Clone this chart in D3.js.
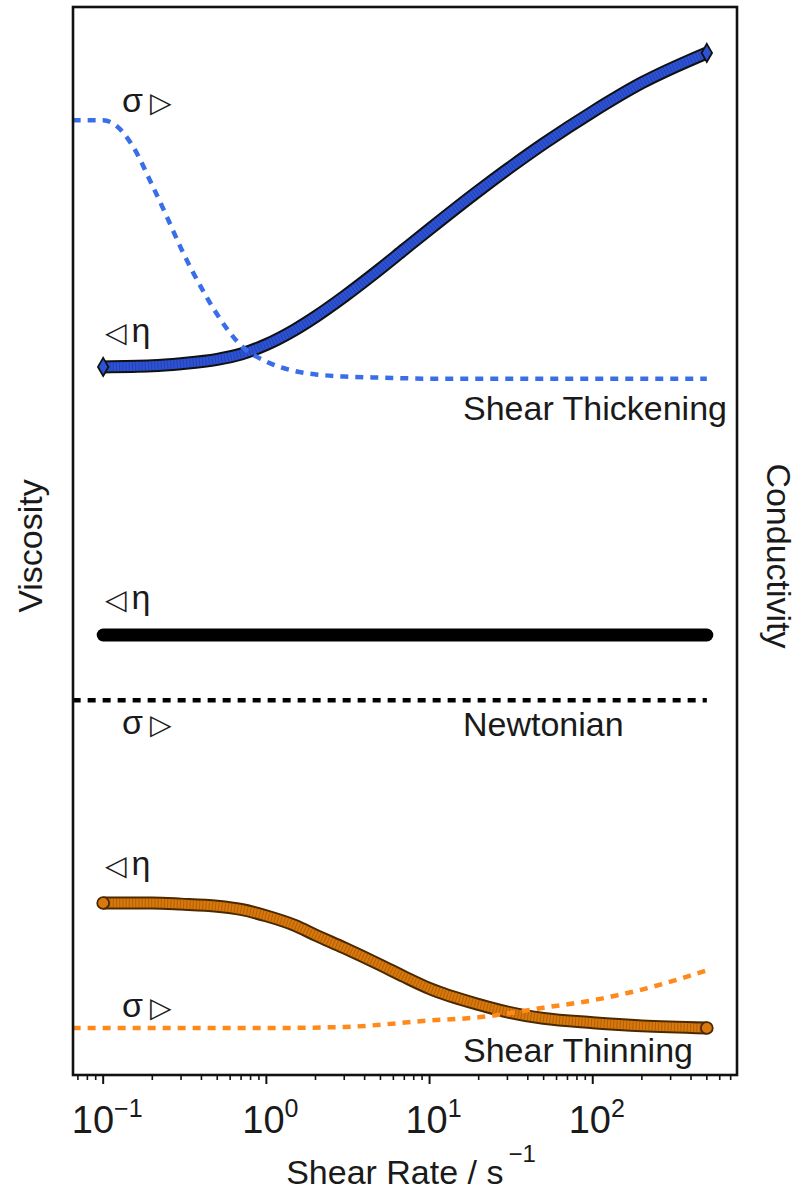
<!DOCTYPE html>
<html>
<head>
<meta charset="utf-8">
<script src="https://cdn.jsdelivr.net/npm/d3@7"></script>
<style>
  body { margin: 0; background: #fff; }
  svg { display: block; }
  text { font-family: "Liberation Sans", Arial, sans-serif; fill: #1a1a1a; }
  .sym { font-family: "DejaVu Sans", sans-serif; }
</style>
</head>
<body>
<svg id="chart" width="800" height="1191"></svg>
<script>
// ---- data -------------------------------------------------------------
// shear rate (1/s) at which viscosity was sampled
const rate = [0.1, 0.2, 0.3, 0.5, 0.7, 1, 1.5, 2, 3, 5, 7, 10, 20, 30, 50, 100, 200, 500];
// viscosity levels (arbitrary units, stacked per fluid type)
const thickeningViscosity = [66.3, 66.4, 66.6, 67.0, 67.5, 68.4, 69.8, 71.0, 72.9, 75.5, 77.3, 79.2, 82.8, 84.8, 87.2, 90.2, 92.9, 95.7];
const thinningViscosity   = [16.1, 16.1, 16.0, 15.8, 15.5, 14.9, 14.0, 13.1, 11.9, 10.3, 9.2, 8.1, 6.6, 5.9, 5.3, 4.9, 4.6, 4.4];
const newtonianRate      = [0.1, 500];
const newtonianViscosity = [41.2, 41.2];

// conductivity levels (arbitrary units)
const thickeningCondRate = [0.065, 0.1, 0.12, 0.15, 0.2, 0.25, 0.3, 0.4, 0.5, 0.7, 1, 1.5, 2, 3, 5, 10, 100, 500];
const thickeningConductivity = [89.4, 89.4, 88.9, 87.1, 83.3, 80.1, 77.4, 73.7, 71.2, 68.3, 66.8, 65.9, 65.6, 65.4, 65.3, 65.2, 65.2, 65.2];
const newtonianCondRate = [0.065, 500];
const newtonianConductivity = [35.1, 35.1];
const thinningCondRate = [0.065, 0.1, 1, 3, 10, 20, 50, 100, 200, 500];
const thinningConductivity = [4.4, 4.4, 4.4, 4.5, 5.1, 5.4, 6.3, 7.0, 8.0, 9.8];

const majorTicks = [0.1, 1, 10, 100];
const tickExponents = ["\u22121", "0", "1", "2"];

// ---- layout -----------------------------------------------------------
const svg = d3.select("#chart");
const plot = { left: 73, right: 737, top: 7, bottom: 1075 };

// log axis padded 5% (in decades) beyond the sampled range
const lo = Math.log10(d3.min(rate)), hi = Math.log10(d3.max(rate));
const pad = (hi - lo) * 0.05;
const x = d3.scaleLog().domain([10 ** (lo - pad), 10 ** (hi + pad)]).range([plot.left, plot.right]);
const y = d3.scaleLinear().domain([0, 100]).range([plot.bottom, plot.top]);

svg.append("defs").append("clipPath").attr("id", "plotClip")
  .append("rect")
  .attr("x", plot.left).attr("y", plot.top)
  .attr("width", plot.right - plot.left).attr("height", plot.bottom - plot.top);

const g = svg.append("g").attr("clip-path", "url(#plotClip)");
const line = d3.line().x(d => x(d[0])).y(d => y(d[1])).curve(d3.curveMonotoneX);
const zip = (a, b) => a.map((v, i) => [v, b[i]]);

// thick marker-style curve: dark edge, coloured body, fine marker texture
function markerCurve(pts, edge, body, texture, symbol) {
  g.append("path").attr("d", line(pts)).attr("fill", "none")
    .attr("stroke", edge).attr("stroke-width", 13).attr("stroke-linejoin", "round");
  g.append("path").attr("d", line(pts)).attr("fill", "none")
    .attr("stroke", body).attr("stroke-width", 9).attr("stroke-linejoin", "round");
  g.append("path").attr("d", line(pts)).attr("fill", "none")
    .attr("stroke", texture).attr("stroke-width", 9).attr("stroke-opacity", 0.5)
    .attr("stroke-dasharray", "1 2.2");
  const ends = [pts[0], pts[pts.length - 1]];
  g.selectAll(null).data(ends).enter().append("path")
    .attr("d", d3.symbol().type(symbol).size(symbol === d3.symbolDiamond ? 95 : 110))
    .attr("transform", d => `translate(${x(d[0])},${y(d[1])})`)
    .attr("fill", body).attr("stroke", edge).attr("stroke-width", 1.8);
}

function dottedCurve(pts, colour) {
  g.append("path").attr("d", line(pts)).attr("fill", "none")
    .attr("stroke", colour).attr("stroke-width", 4.5)
    .attr("stroke-dasharray", "8 7");
}

// shear thickening
markerCurve(zip(rate, thickeningViscosity), "#111", "#2d52d4", "#1a3497", d3.symbolDiamond);
dottedCurve(zip(thickeningCondRate, thickeningConductivity), "#3a6ee8");

// newtonian
g.append("path").attr("d", line(zip(newtonianRate, newtonianViscosity)))
  .attr("fill", "none").attr("stroke", "#000").attr("stroke-width", 13).attr("stroke-linecap", "round");
dottedCurve(zip(newtonianCondRate, newtonianConductivity), "#000");

// shear thinning
markerCurve(zip(rate, thinningViscosity), "#4a2800", "#d9780c", "#8a4a00", d3.symbolCircle);
dottedCurve(zip(thinningCondRate, thinningConductivity), "#ff8a1c");

// ---- frame & x axis ---------------------------------------------------
svg.append("rect")
  .attr("x", plot.left).attr("y", plot.top)
  .attr("width", plot.right - plot.left).attr("height", plot.bottom - plot.top)
  .attr("fill", "none").attr("stroke", "#111").attr("stroke-width", 2.6);

const [dMin, dMax] = x.domain();
const minorTicks = [];
for (let e = Math.floor(Math.log10(dMin)); e <= Math.ceil(Math.log10(dMax)); e++) {
  for (let m = 2; m <= 9; m++) {
    const v = m * 10 ** e;
    if (v >= dMin && v <= dMax) minorTicks.push(v);
  }
}
svg.selectAll(".minor").data(minorTicks).enter().append("line")
  .attr("x1", d => x(d)).attr("x2", d => x(d))
  .attr("y1", plot.bottom).attr("y2", plot.bottom + 5)
  .attr("stroke", "#111").attr("stroke-width", 1.6);
svg.selectAll(".major").data(majorTicks).enter().append("line")
  .attr("x1", d => x(d)).attr("x2", d => x(d))
  .attr("y1", plot.bottom).attr("y2", plot.bottom + 9)
  .attr("stroke", "#111").attr("stroke-width", 2);

const tl = svg.selectAll(".ticklabel").data(majorTicks).enter().append("text")
  .attr("x", d => x(d) + 4).attr("y", plot.bottom + 58)
  .attr("text-anchor", "middle").attr("font-size", 38);
tl.append("tspan").text("10");
tl.append("tspan").attr("dy", -16).attr("font-size", 25).text((d, i) => tickExponents[i]);

const title = svg.append("text")
  .attr("x", (plot.left + plot.right) / 2 + 6).attr("y", plot.bottom + 109)
  .attr("text-anchor", "middle").attr("font-size", 34);
title.append("tspan").text("Shear Rate / s");
title.append("tspan").attr("dx", 5).attr("dy", -22).attr("font-size", 24).text("\u22121");

// ---- y titles ---------------------------------------------------------
svg.append("text")
  .attr("transform", `translate(42,${(plot.top + plot.bottom) / 2 + 5}) rotate(-90)`)
  .attr("text-anchor", "middle").attr("font-size", 34).text("Viscosity");
svg.append("text")
  .attr("transform", `translate(767,${(plot.top + plot.bottom) / 2 + 15}) rotate(90)`)
  .attr("text-anchor", "middle").attr("font-size", 34).text("Conductivity");

// ---- annotations ------------------------------------------------------
// conductivity markers (σ ▷), viscosity markers (◁ η) and curve names
const sigmaNotes = [[122, 112], [122, 734], [122, 1017]];
const etaNotes = [[105, 342], [105, 609], [105, 875]];
const nameNotes = [["Shear Thickening", 463, 420], ["Newtonian", 463, 736], ["Shear Thinning", 463, 1062]];

const sn = svg.selectAll(".sigma").data(sigmaNotes).enter().append("text")
  .attr("x", d => d[0]).attr("y", d => d[1]).attr("font-size", 34);
sn.append("tspan").text("\u03C3");
sn.append("tspan").attr("class", "sym").attr("dx", 7).attr("font-size", 28).text("\u25B7");

const en = svg.selectAll(".eta").data(etaNotes).enter().append("text")
  .attr("x", d => d[0]).attr("y", d => d[1]).attr("font-size", 34);
en.append("tspan").attr("class", "sym").attr("font-size", 28).text("\u25C1");
en.append("tspan").attr("dx", 5).text("\u03B7");

svg.selectAll(".name").data(nameNotes).enter().append("text")
  .attr("x", d => d[1]).attr("y", d => d[2])
  .attr("font-size", 34).text(d => d[0]);
</script>
</body>
</html>
